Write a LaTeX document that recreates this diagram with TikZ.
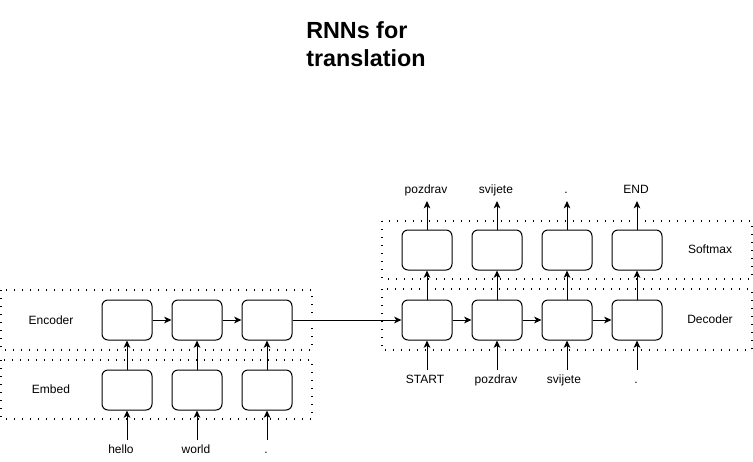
\documentclass[tikz,border=0pt]{standalone}
\usepackage{fontspec}
\setmainfont{Liberation Sans}
\usetikzlibrary{arrows.meta}
\tikzset{
  cell/.style={draw, line width=0.75pt, rounded corners=4.5pt, minimum width=37.5pt, minimum height=30pt, inner sep=0pt},
  container/.style={draw, line width=0.9pt, dash pattern=on 0.9pt off 5.1pt},
  lbl/.style={font=\fontsize{9}{11}\selectfont, inner sep=0pt, text height=6.6pt, text depth=1.9pt},
  arr/.style={line width=0.75pt, -{Stealth[length=5.5pt,width=5pt,inset=1.5pt]}}
}
\begin{document}
\begin{tikzpicture}[x=0.75pt,y=-0.75pt]
\useasboundingbox (0,0) rectangle (753,461);
% title
\node[anchor=north west, align=left, inner sep=0pt, font=\fontsize{17.5}{21.2}\selectfont\bfseries] (title) at (306,21) {RNNs for\\translation};
% containers
\draw[container] (1,290) rectangle (312,350);
\draw[container] (1,360) rectangle (312,419);
\draw[container] (382,221) rectangle (752,279);
\draw[container] (382,289) rectangle (752,350);
% container labels
\node[lbl] (lenc) at (51,321) {Encoder};
\node[lbl] (lemb) at (51,390) {Embed};
\node[lbl] (lsoft) at (710,250) {Softmax};
\node[lbl] (ldec) at (710,320) {Decoder};
% encoder / embed cells
\foreach \i/\x in {1/127,2/197,3/267}{
  \node[cell] (e\i) at (\x,320) {};
  \node[cell] (m\i) at (\x,390) {};
  \coordinate (in\i) at (\x,440);
}
% decoder / softmax cells
\foreach \i/\x in {1/427,2/497,3/567,4/637}{
  \node[cell] (d\i) at (\x,320) {};
  \node[cell] (s\i) at (\x,250) {};
  \coordinate (din\i) at (\x,370);
  \coordinate (out\i) at (\x,201);
}
% input words
\node[lbl] (w1) at (121,450) {hello};
\node[lbl] (w2) at (196,450) {world};
\node[lbl] (w3) at (266,450) {.};
\node[lbl] (t1) at (425,380) {START};
\node[lbl] (t2) at (496,380) {pozdrav};
\node[lbl] (t3) at (564,380) {svijete};
\node[lbl] (t4) at (636,380) {.};
% output words
\node[lbl] (o1) at (426,190) {pozdrav};
\node[lbl] (o2) at (496,190) {svijete};
\node[lbl] (o3) at (566,190) {.};
\node[lbl] (o4) at (636,190) {END};
% arrows
\foreach \i in {1,2,3}{
  \draw[arr] (in\i) -- (m\i.south);
  \draw[arr] (m\i.north) -- (e\i.south);
}
\draw[arr] (e1.east) -- (e2.west);
\draw[arr] (e2.east) -- (e3.west);
\draw[arr] (e3.east) -- (d1.west);
\draw[arr] (d1.east) -- (d2.west);
\draw[arr] (d2.east) -- (d3.west);
\draw[arr] (d3.east) -- (d4.west);
\foreach \i in {1,2,3,4}{
  \draw[arr] (din\i) -- (d\i.south);
  \draw[arr] (d\i.north) -- (s\i.south);
  \draw[arr] (s\i.north) -- (out\i);
}
\end{tikzpicture}
\end{document}
